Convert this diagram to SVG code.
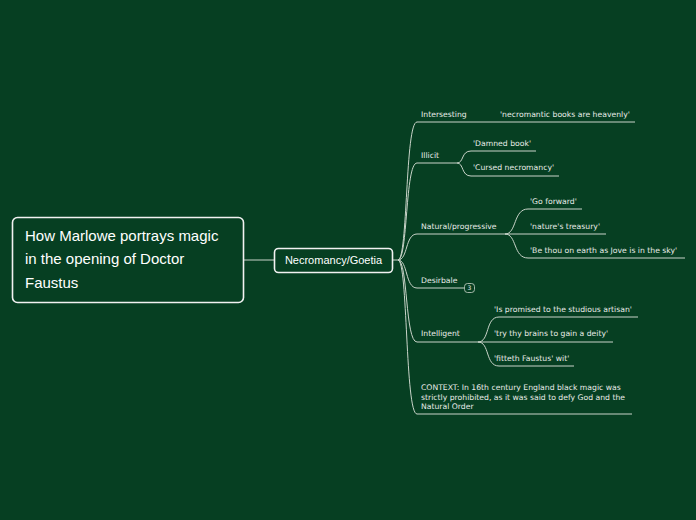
<svg xmlns="http://www.w3.org/2000/svg" width="696" height="520" viewBox="0 0 696 520">
<style>
.ln{fill:none;stroke:#c9d4c9;stroke-width:1}
.box{fill:#063f22;stroke:#f2f2f2;stroke-width:1.6}
.t{font-family:"DejaVu Sans",Verdana,sans-serif;font-size:7.7px;fill:#e8ece8}
.big{font-family:"Liberation Sans",Arial,sans-serif;font-size:15px;fill:#ffffff}
.mid{font-family:"Liberation Sans",Arial,sans-serif;font-size:11px;fill:#ffffff}
</style>
<rect width="696" height="520" fill="#063f22"/>
<g id="connectors">
<path class="ln" d="M243,260 L274,260"/>
<path class="ln" d="M392,260 L398,260"/>
<path class="ln" d="M398,260 C408,260 405,122 417,122 L635,122"/>
<path class="ln" d="M398,260 C408,260 405,163 417,163 L457,163"/>
<path class="ln" d="M398,260 C408,260 405,234 417,234 L505,234"/>
<path class="ln" d="M398,260 C408,260 405,288 417,288 L464,288"/>
<path class="ln" d="M398,260 C408,260 405,342 417,342 L478,342"/>
<path class="ln" d="M398,260 C408,260 405,414 417,414 L632,414"/>
<path class="ln" d="M457,163 C464,163 461,151 471,151 L536,151"/>
<path class="ln" d="M457,163 C464,163 461,176 471,176 L559,176"/>
<path class="ln" d="M505,234 C517,234 513,209 528,209 L582,209"/>
<path class="ln" d="M505,234 L606,234"/>
<path class="ln" d="M505,234 C517,234 513,258 528,258 L685,258"/>
<path class="ln" d="M478,342 C490,342 485,317 499,317 L638,317"/>
<path class="ln" d="M478,342 L613,342"/>
<path class="ln" d="M478,342 C490,342 485,366 499,366 L574,366"/>
</g>
<g id="root">
<rect class="box" x="12.5" y="217.5" width="231" height="85" rx="5"/>
<text class="big" x="25" y="241">How Marlowe portrays magic</text>
<text class="big" x="25" y="264">in the opening of Doctor</text>
<text class="big" x="25" y="288">Faustus</text>
</g>
<g id="necromancy">
<rect class="box" x="274.5" y="248.5" width="118" height="24" rx="4"/>
<text class="mid" x="333.5" y="264" text-anchor="middle">Necromancy/Goetia</text>
</g>
<g id="intersesting">
<text class="t" x="421" y="117">Intersesting</text>
</g>
<g id="heavenly">
<text class="t" x="500" y="117">'necromantic books are heavenly'</text>
</g>
<g id="illicit">
<text class="t" x="421" y="158">Illicit</text>
</g>
<g id="damned">
<text class="t" x="473" y="146">'Damned book'</text>
</g>
<g id="cursed">
<text class="t" x="473" y="170">'Cursed necromancy'</text>
</g>
<g id="natural">
<text class="t" x="421" y="229">Natural/progressive</text>
</g>
<g id="goforward">
<text class="t" x="530" y="204">'Go forward'</text>
</g>
<g id="treasury">
<text class="t" x="530" y="229">'nature's treasury'</text>
</g>
<g id="jove">
<text class="t" x="530" y="253">'Be thou on earth as Jove is in the sky'</text>
</g>
<g id="desirbale">
<text class="t" x="421" y="283">Desirbale</text>
<rect x="464.5" y="283.5" width="10" height="9" rx="3" fill="#063f22" stroke="#c9d4c9" stroke-width="0.8"/>
<text class="t" x="469.5" y="290.3" text-anchor="middle" style="font-size:6px">3</text>
</g>
<g id="intelligent">
<text class="t" x="421" y="336">Intelligent</text>
</g>
<g id="promised">
<text class="t" x="494" y="312">'Is promised to the studious artisan'</text>
</g>
<g id="brains">
<text class="t" x="494" y="336">'try thy brains to gain a deity'</text>
</g>
<g id="fitteth">
<text class="t" x="494" y="361">'fitteth Faustus' wit'</text>
</g>
<g id="context">
<text class="t" x="421" y="390">CONTEXT: In 16th century England black magic was</text>
<text class="t" x="421" y="400">strictly prohibited, as it was said to defy God and the</text>
<text class="t" x="421" y="409">Natural Order</text>
</g>
</svg>
